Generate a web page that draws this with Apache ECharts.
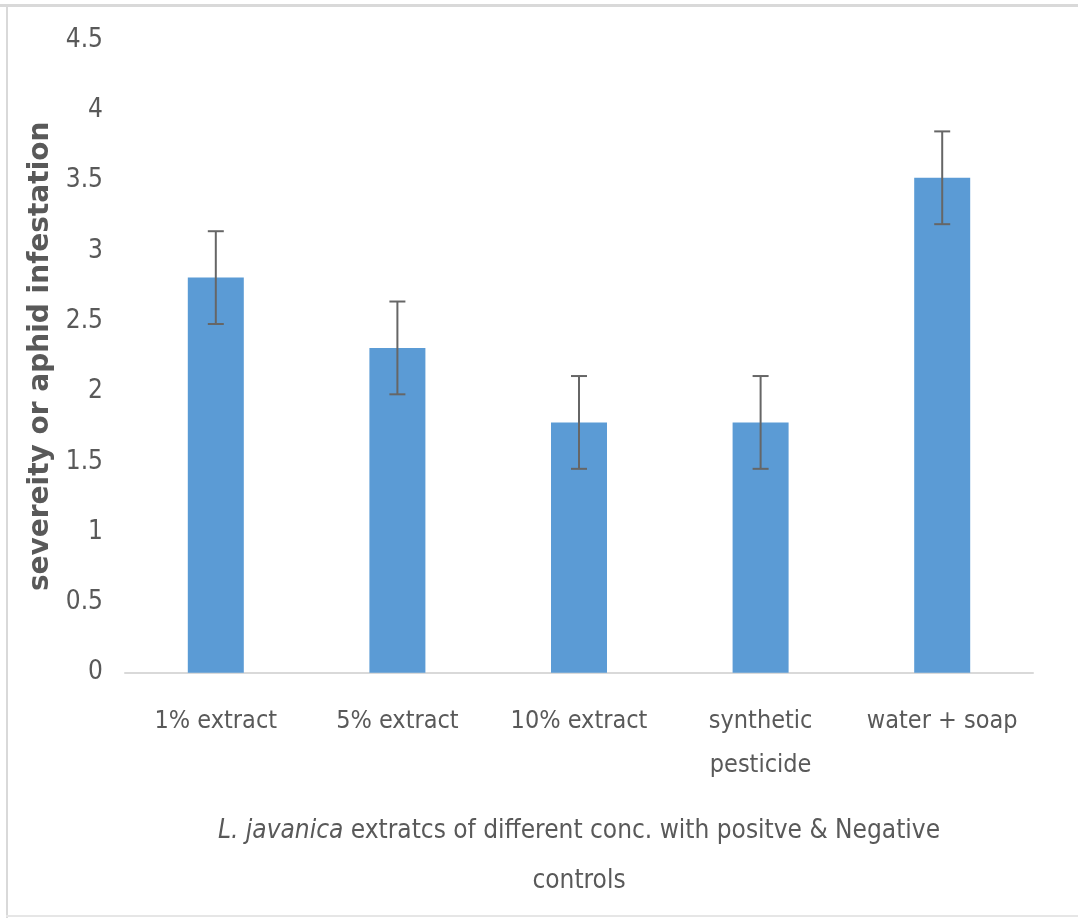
<!DOCTYPE html>
<html>
<head>
<meta charset="utf-8">
<script src="https://cdn.jsdelivr.net/npm/echarts@6/dist/echarts.min.js"></script>
<style>
html,body{margin:0;padding:0;background:#fff;}
#main{width:1078px;height:918px;}
</style>
</head>
<body>
<div id="main"></div>
<script>
var categories = ['1% extract', '5% extract', '10% extract', 'synthetic\npesticide', 'water + soap'];
var values = [2.81, 2.31, 1.78, 1.78, 3.52];
var errors = [0.33, 0.33, 0.33, 0.33, 0.33];
var yTicks = [0, 0.5, 1, 1.5, 2, 2.5, 3, 3.5, 4, 4.5];

var narrow = "'Liberation Sans Narrow', 'DejaVu Sans Condensed', 'Roboto Condensed', 'Arial Narrow', sans-serif";
var chart = echarts.init(document.getElementById('main'));
var errData = categories.map(function (c, i) { return [i, values[i] - errors[i], values[i] + errors[i]]; });

chart.setOption({
  animation: false,
  backgroundColor: '#fff',
  grid: { left: 125, right: 45, top: 40, bottom: 245.3 },
  graphic: [
    { type: 'rect', shape: { x: 0, y: 4, width: 1078, height: 3 }, style: { fill: '#d9d9d9' } },
    { type: 'rect', shape: { x: 6, y: 4, width: 2, height: 914 }, style: { fill: '#d9d9d9' } },
    { type: 'rect', shape: { x: 6, y: 915, width: 1072, height: 2 }, style: { fill: '#e6e6e6' } }
  ],
  xAxis: {
    type: 'category',
    data: categories,
    axisLine: { lineStyle: { color: '#d9d9d9', width: 2 } },
    axisTick: { show: false },
    axisLabel: { color: '#595959', fontFamily: narrow, fontSize: 25, lineHeight: 44, margin: 27, interval: 0 },
    name: '{i|L. javanica} extratcs of different conc. with positve & Negative\ncontrols',
    nameLocation: 'middle',
    nameGap: 134,
    nameTextStyle: {
      color: '#595959', fontFamily: narrow, fontSize: 26, lineHeight: 50, align: 'center',
      rich: { i: { fontStyle: 'italic', color: '#595959', fontFamily: narrow, fontSize: 26, lineHeight: 50 } }
    }
  },
  yAxis: {
    type: 'value',
    min: 0, max: 4.5, interval: 0.5,
    axisLine: { show: false },
    axisTick: { show: false },
    splitLine: { show: false },
    axisLabel: {
      color: '#595959', fontFamily: narrow, fontSize: 26, margin: 22,
      formatter: function (v) { return yTicks.indexOf(v) >= 0 ? String(v) : ''; }
    },
    name: 'severeity or aphid infestation',
    nameLocation: 'middle',
    nameGap: 68,
    nameTextStyle: { color: '#595959', fontFamily: "'DejaVu Sans', sans-serif", fontWeight: 'bold', fontSize: 28 }
  },
  series: [
    {
      type: 'bar',
      data: values,
      barWidth: 56,
      itemStyle: { color: '#5b9bd5' }
    },
    {
      type: 'custom',
      data: errData,
      z: 10,
      renderItem: function (params, api) {
        var x = api.value(0);
        var lo = api.coord([x, api.value(1)]);
        var hi = api.coord([x, api.value(2)]);
        var hw = 8;
        var st = { stroke: '#666666', lineWidth: 2 };
        return {
          type: 'group',
          children: [
            { type: 'line', shape: { x1: hi[0], y1: hi[1], x2: lo[0], y2: lo[1] }, style: st },
            { type: 'line', shape: { x1: hi[0] - hw, y1: hi[1], x2: hi[0] + hw, y2: hi[1] }, style: st },
            { type: 'line', shape: { x1: lo[0] - hw, y1: lo[1], x2: lo[0] + hw, y2: lo[1] }, style: st }
          ]
        };
      }
    }
  ]
});
</script>
</body>
</html>
